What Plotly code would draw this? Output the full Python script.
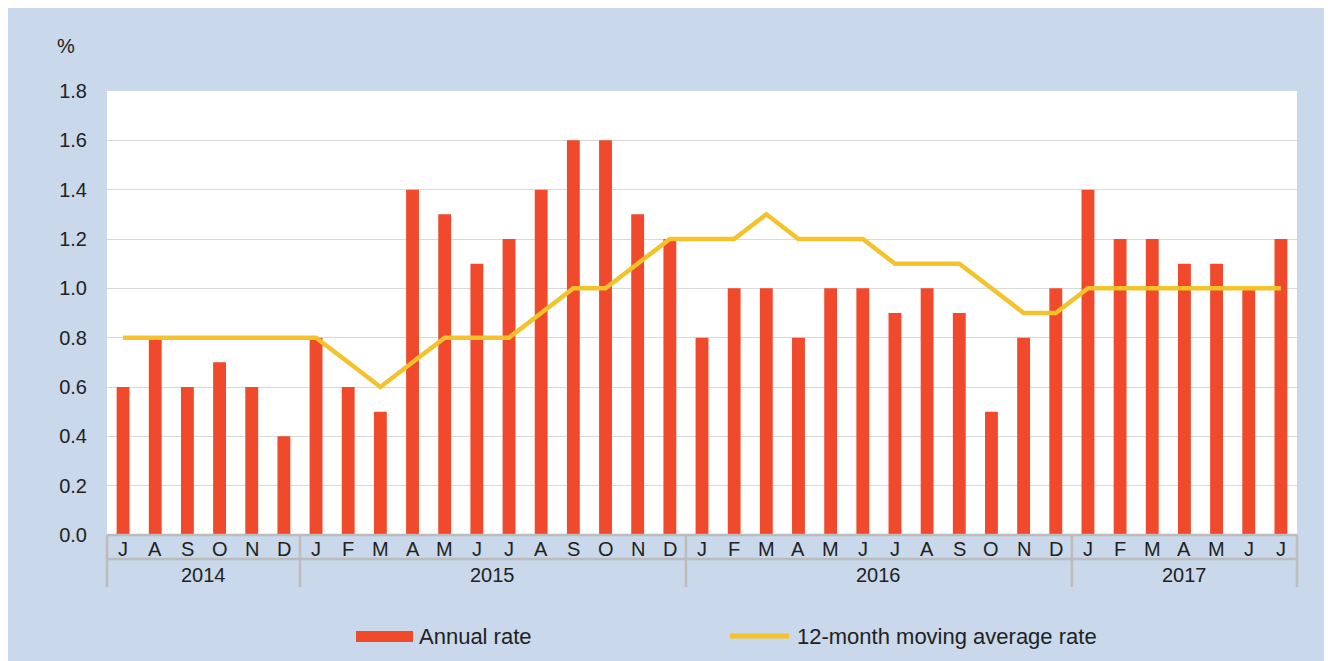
import plotly.graph_objects as go

months = ["J","A","S","O","N","D",
          "J","F","M","A","M","J","J","A","S","O","N","D",
          "J","F","M","A","M","J","J","A","S","O","N","D",
          "J","F","M","A","M","J","J"]
years = ["2014", "2015", "2016", "2017"]
year_counts = [6, 12, 12, 7]

annual_rate = [0.6, 0.8, 0.6, 0.7, 0.6, 0.4,
               0.8, 0.6, 0.5, 1.4, 1.3, 1.1, 1.2, 1.4, 1.6, 1.6, 1.3, 1.2,
               0.8, 1.0, 1.0, 0.8, 1.0, 1.0, 0.9, 1.0, 0.9, 0.5, 0.8, 1.0,
               1.4, 1.2, 1.2, 1.1, 1.1, 1.0, 1.2]
moving_avg = [0.8, 0.8, 0.8, 0.8, 0.8, 0.8,
              0.8, 0.7, 0.6, 0.7, 0.8, 0.8, 0.8, 0.9, 1.0, 1.0, 1.1, 1.2,
              1.2, 1.2, 1.3, 1.2, 1.2, 1.2, 1.1, 1.1, 1.1, 1.0, 0.9, 0.9,
              1.0, 1.0, 1.0, 1.0, 1.0, 1.0, 1.0]

BG = "#c9d8ea"
RED = "#f0492b"
YEL = "#f4c22b"
AX = "#bcbcbc"
TXT = "#222222"
FONT = "Liberation Sans, Arial, sans-serif"

n = len(months)
xs = list(range(n))

fig = go.Figure()
fig.add_trace(go.Bar(x=xs, y=annual_rate, width=0.4, marker=dict(color=RED, line=dict(width=0)),
                     name="Annual rate", showlegend=False))
fig.add_trace(go.Scatter(x=xs, y=moving_avg, mode="lines", line=dict(color=YEL, width=4.5),
                         name="12-month moving average rate", showlegend=False))

OFF = 8  # page body margin
W, H = 1332 - OFF, 661 - OFF
L, T = 107 - OFF, 91 - OFF
R = 1332 - 1297
B = 661 - 535
pw, ph = W - L - R, H - T - B

def px_x(p):
    return (p - OFF - L) / pw

def px_y(q):
    return (H - B - (q - OFF)) / ph

def cat_x(v):
    return (v + 0.5) / n

shapes = []
shapes.append(dict(type="line", xref="paper", yref="paper", x0=0, x1=1, y0=0, y1=0,
                   line=dict(color=AX, width=2.5), layer="above"))
shapes.append(dict(type="line", xref="paper", yref="paper", x0=0, x1=1, y0=px_y(559), y1=px_y(559),
                   line=dict(color=AX, width=2.5)))
bounds = [-0.5]
acc = -0.5
for c in year_counts:
    acc += c
    bounds.append(acc)
for b in bounds:
    shapes.append(dict(type="line", xref="paper", yref="paper", x0=cat_x(b), x1=cat_x(b),
                       y0=0, y1=px_y(587), line=dict(color=AX, width=2.5)))
shapes.append(dict(type="rect", xref="paper", yref="paper", x0=px_x(356), x1=px_x(413),
                   y0=px_y(642), y1=px_y(631), fillcolor=RED, line=dict(width=0)))
shapes.append(dict(type="line", xref="paper", yref="paper", x0=px_x(730), x1=px_x(789),
                   y0=px_y(636), y1=px_y(636), line=dict(color=YEL, width=5)))

annotations = []
for i, m in enumerate(months):
    annotations.append(dict(x=i, y=px_y(549), xref="x", yref="paper", text=m, showarrow=False,
                            xanchor="center", yanchor="middle", font=dict(size=20, color=TXT, family=FONT)))
start = 0
for yv, c in zip(years, year_counts):
    annotations.append(dict(x=start + (c - 1) / 2, y=px_y(575), xref="x", yref="paper", text=yv,
                            showarrow=False, xanchor="center", yanchor="middle",
                            font=dict(size=20, color=TXT, family=FONT)))
    start += c
annotations.append(dict(x=px_x(55), y=px_y(46), xref="paper", yref="paper", text="%", showarrow=False,
                        xanchor="left", yanchor="middle", font=dict(size=20, color=TXT, family=FONT)))
annotations.append(dict(x=px_x(417), y=px_y(636), xref="paper", yref="paper", text="Annual rate",
                        showarrow=False, xanchor="left", yanchor="middle",
                        font=dict(size=22, color=TXT, family=FONT)))
annotations.append(dict(x=px_x(795), y=px_y(636), xref="paper", yref="paper",
                        text="12-month moving average rate", showarrow=False, xanchor="left",
                        yanchor="middle", font=dict(size=22, color=TXT, family=FONT)))

fig.update_layout(
    width=W, height=H,
    margin=dict(l=L, r=R, t=T, b=B, pad=0),
    paper_bgcolor=BG, plot_bgcolor="white",
    showlegend=False,
    bargap=0.6,
    xaxis=dict(range=[-0.5, n - 0.5], showticklabels=False, showgrid=False, zeroline=False,
               showline=False, ticks="", fixedrange=True),
    yaxis=dict(range=[0, 1.8], tickvals=[0, 0.2, 0.4, 0.6, 0.8, 1.0, 1.2, 1.4, 1.6, 1.8],
               tickformat=".1f", showgrid=True, gridcolor="#d9d9d9", gridwidth=1,
               zeroline=False, showline=False, ticks="", ticklabelstandoff=19,
               tickfont=dict(size=20, color=TXT, family=FONT)),
    shapes=shapes, annotations=annotations,
    font=dict(family=FONT, color=TXT),
)

fig.write_html("out.html")
